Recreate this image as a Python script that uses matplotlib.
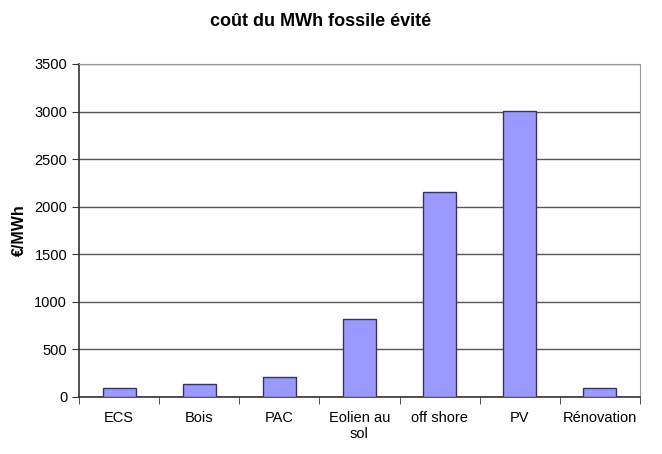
import matplotlib
matplotlib.use("Agg")
import matplotlib.pyplot as plt
import numpy as np

plt.rcParams['font.family'] = ['Liberation Sans', 'DejaVu Sans']

categories = ["ECS", "Bois", "PAC", "Eolien au\nsol", "off shore", "PV", "Rénovation"]
values = [95, 137, 207, 820, 2152, 3010, 95]
yticks = [0, 500, 1000, 1500, 2000, 2500, 3000, 3500]

fig = plt.figure(figsize=(6.62, 4.54), dpi=100)
ax = fig.add_axes([79/662, 1-397/454, (640-79)/662, (397-64)/454])

x = np.arange(len(categories))
ax.bar(x, values, width=0.41, color="#9999FF", edgecolor="#333366", linewidth=1.0, zorder=3)

ax.set_xlim(-0.5, len(categories) - 0.5)
ax.set_ylim(0, 3500)
ax.set_yticks(yticks)
ax.set_yticklabels([str(v) for v in yticks], fontsize=10.5)
ax.yaxis.grid(True, color="#555555", linewidth=1.0, zorder=0)
ax.set_axisbelow(True)

ax.set_xticks(x)
ax.set_xticklabels(categories, fontsize=10.5)
ax.tick_params(axis='x', length=0, pad=10)
ax.set_xticks(np.arange(-0.5, len(categories) + 0.5, 1), minor=True)
ax.tick_params(axis='x', which='minor', length=5, direction='out', color="#333333")
ax.tick_params(axis='y', length=5, direction='out', color="#333333")

for s in ['top', 'right']:
    ax.spines[s].set_color("#999999")
for s in ['left', 'bottom']:
    ax.spines[s].set_color("#333333")
    ax.spines[s].set_linewidth(1.2)

ax.set_ylabel("€/MWh", fontsize=11.5, fontweight='bold', labelpad=5)
fig.text(321/662, 1-22/454, "coût du MWh fossile évité", fontsize=13, fontweight='bold',
         ha='center', va='center')

fig.savefig("out.png", dpi=100)
